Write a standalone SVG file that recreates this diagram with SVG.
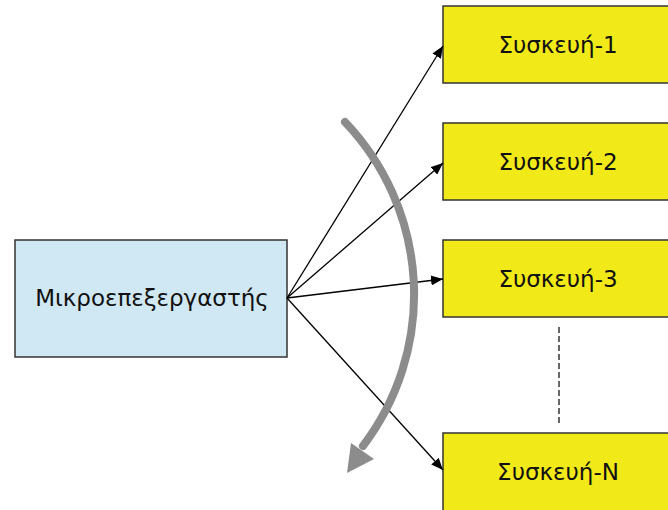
<svg xmlns="http://www.w3.org/2000/svg" width="668" height="510" viewBox="0 0 668 510">
<defs>
<style>
.cpu{fill:#d0e8f3;stroke:#333;stroke-width:1.5}
.dev{fill:#f2e918;stroke:#333;stroke-width:1.5}
.lbl{font-family:"DejaVu Sans","Liberation Sans",sans-serif;font-size:23px;fill:#111;text-anchor:middle}
.conn{stroke:#000;stroke-width:1.3;fill:none;marker-end:url(#ah)}
</style>
<marker id="ah" viewBox="0 0 12 10" refX="12" refY="5" markerWidth="12" markerHeight="10" markerUnits="userSpaceOnUse" orient="auto">
<path d="M0,0 L12,5 L0,10 z" fill="#000"/>
</marker>
</defs>
<rect width="668" height="510" fill="#fff"/>
<g id="cpu">
<rect class="cpu" x="15" y="240" width="272" height="117"/>
<text class="lbl" x="152" y="306">Μικροεπεξεργαστής</text>
</g>
<g id="dev1">
<rect class="dev" x="443" y="6" width="232" height="77"/>
<text class="lbl" x="558" y="53">Συσκευή-1</text>
</g>
<g id="dev2">
<rect class="dev" x="443" y="123" width="232" height="77"/>
<text class="lbl" x="558" y="170">Συσκευή-2</text>
</g>
<g id="dev3">
<rect class="dev" x="443" y="240" width="232" height="77"/>
<text class="lbl" x="558" y="287">Συσκευή-3</text>
</g>
<g id="devN">
<rect class="dev" x="443" y="433" width="232" height="90"/>
<text class="lbl" x="558" y="480">Συσκευή-N</text>
</g>
<g id="connectors">
<line class="conn" x1="287" y1="298" x2="443" y2="46"/>
<line class="conn" x1="287" y1="298" x2="443" y2="163"/>
<line class="conn" x1="287" y1="298" x2="443" y2="279"/>
<line class="conn" x1="287" y1="298" x2="443" y2="470"/>
<line x1="559" y1="327" x2="559" y2="426" stroke="#000" stroke-width="1.2" stroke-dasharray="6,3"/>
</g>
<g id="scan">
<path d="M345,122 A250,250 0 0 1 363,446" fill="none" stroke="#8c8c8c" stroke-width="8" stroke-linecap="round"/>
<polygon points="347,473 351,443 374,459" fill="#8c8c8c"/>
</g>
</svg>
